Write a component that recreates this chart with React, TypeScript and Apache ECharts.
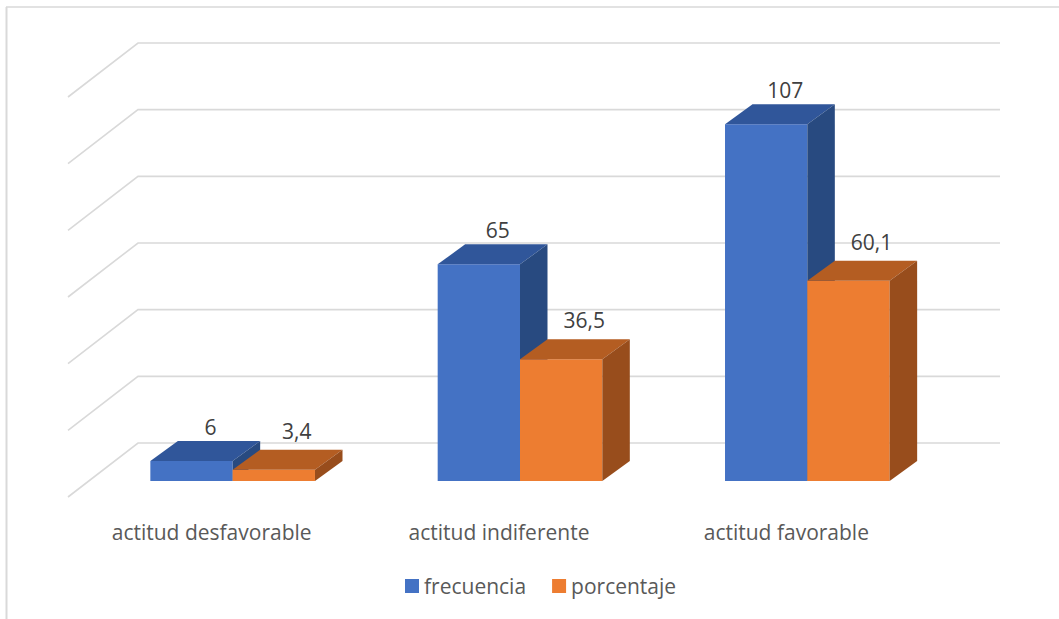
import React, { useEffect, useRef } from 'react';
import * as echarts from 'echarts';

const categories = ['actitud desfavorable', 'actitud indiferente', 'actitud favorable'];
const frecuencia = [6, 65, 107];
const porcentaje = [3.4, 36.5, 60.1];
const yTicks = [0, 20, 40, 60, 80, 100, 120];
const seriesNames = ['frecuencia', 'porcentaje'];

const FONT = "'Open Sans', sans-serif";
const DX = 27.5;
const DY = -20;
const WALL_X = 49;
const WALL_Y = -38;
const FLOOR_X = -70;
const FLOOR_Y = 54;

const palettes = [
  { front: '#4472C4', top: '#30569A', side: '#284A80', labelDx: 19, labelDy: -14 },
  { front: '#ED7D31', top: '#B45D22', side: '#984D1C', labelDx: 23, labelDy: -19 },
];

function barRender(si: number) {
  return (params: any, api: any) => {
    const c = api.value(0);
    const v = api.value(1);
    const base = api.coord([c, 0]);
    const topP = api.coord([c, v]);
    const band = api.size([1, 0])[0];
    const w = band * 0.2865;
    const x0 = si === 0 ? base[0] - w : base[0];
    const x1 = x0 + w;
    const yb = base[1];
    const yt = topP[1];
    const p = palettes[si];
    const label = String(v).replace('.', ',');
    return {
      type: 'group',
      children: [
        { type: 'polygon', shape: { points: [[x0, yt], [x1, yt], [x1, yb], [x0, yb]] }, style: { fill: p.front } },
        { type: 'polygon', shape: { points: [[x0, yt], [x0 + DX, yt + DY], [x1 + DX, yt + DY], [x1, yt]] }, style: { fill: p.top } },
        { type: 'polygon', shape: { points: [[x1, yt], [x1 + DX, yt + DY], [x1 + DX, yb + DY], [x1, yb]] }, style: { fill: p.side } },
        {
          type: 'text',
          x: (x0 + x1) / 2 + p.labelDx,
          y: yt + DY + p.labelDy,
          style: { text: label, fill: '#404040', fontSize: 21, fontFamily: FONT, align: 'center', verticalAlign: 'middle' },
        },
      ],
    };
  };
}

function gridRender(params: any, api: any) {
  const v = api.value(1);
  const y = api.coord([0, v])[1] + WALL_Y;
  const cs = params.coordSys;
  const xl = cs.x + WALL_X;
  const xr = cs.x + cs.width + WALL_X;
  return {
    type: 'polyline',
    silent: true,
    shape: { points: [[xl + FLOOR_X, y + FLOOR_Y], [xl, y], [xr, y]] },
    style: { stroke: '#D9D9D9', lineWidth: 1.6, fill: null },
  };
}

export default function App() {
  const ref = useRef<HTMLDivElement>(null);
  useEffect(() => {
    if (!ref.current) return;
    const chart = echarts.init(ref.current, undefined, { renderer: 'svg' });
    chart.setOption({
      animation: false,
      backgroundColor: '#ffffff',
      grid: { left: 89, right: 108, top: 81, bottom: 138 },
      xAxis: {
        type: 'category',
        data: categories,
        axisLine: { show: false },
        axisTick: { show: false },
        splitLine: { show: false },
        axisLabel: {
          interval: 0,
          margin: 40,
          fontSize: 21,
          color: '#595959',
          fontFamily: FONT,
          padding: [0, 42, 0, 0],
        },
      },
      yAxis: { type: 'value', min: 0, max: 120, interval: 20, show: false },
      legend: {
        data: seriesNames,
        left: 405,
        top: 574,
        padding: 0,
        itemWidth: 14,
        itemHeight: 14,
        itemGap: 26,
        icon: 'rect',
        textStyle: { fontFamily: FONT, fontSize: 21, color: '#595959', lineHeight: 24 },
      },
      graphic: [
        { type: 'line', shape: { x1: 6, y1: 7, x2: 1059, y2: 7 }, style: { stroke: '#D9D9D9', lineWidth: 1.3 } },
        { type: 'line', shape: { x1: 6.5, y1: 7, x2: 6.5, y2: 619 }, style: { stroke: '#D9D9D9', lineWidth: 2 } },
      ],
      series: [
        {
          type: 'custom',
          name: '_grid',
          z: 1,
          silent: true,
          renderItem: gridRender,
          data: yTicks.map((t) => [0, t]),
          encode: { x: 0, y: 1 },
        },
        {
          type: 'custom',
          name: seriesNames[0],
          z: 2,
          itemStyle: { color: palettes[0].front },
          renderItem: barRender(0),
          data: frecuencia.map((v, i) => [i, v]),
          encode: { x: 0, y: 1 },
        },
        {
          type: 'custom',
          name: seriesNames[1],
          z: 3,
          itemStyle: { color: palettes[1].front },
          renderItem: barRender(1),
          data: porcentaje.map((v, i) => [i, v]),
          encode: { x: 0, y: 1 },
        },
      ],
    });
    return () => chart.dispose();
  }, []);
  return <div ref={ref} style={{ position: 'absolute', left: 0, top: 0, width: 1059, height: 619 }} />;
}
